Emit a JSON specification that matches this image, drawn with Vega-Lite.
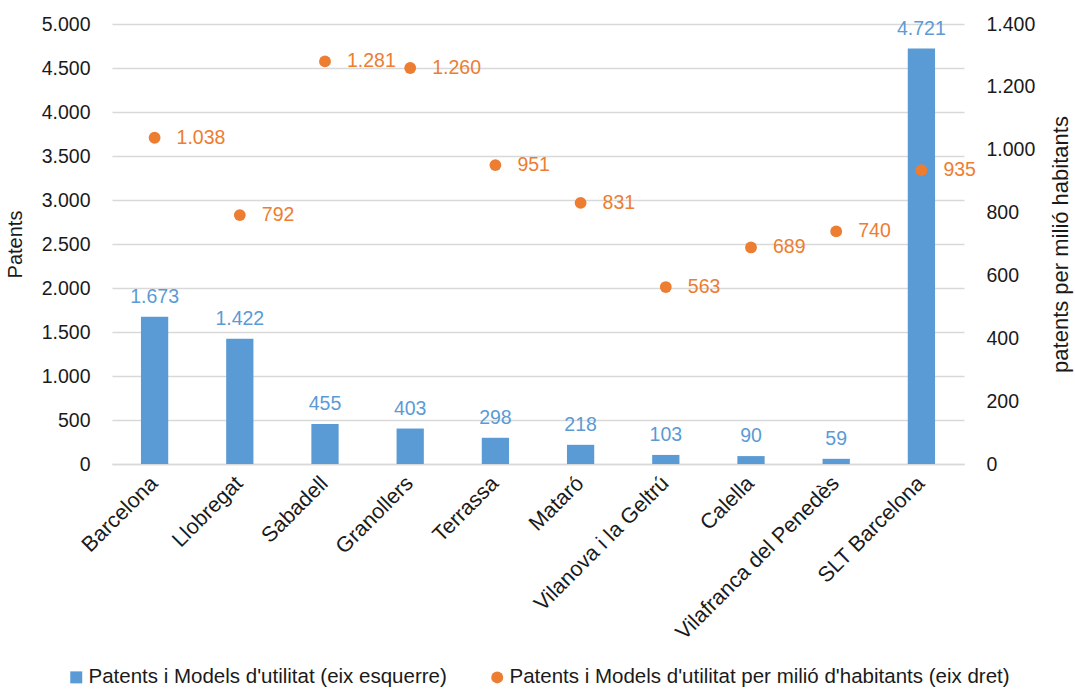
{
  "$schema": "https://vega.github.io/schema/vega-lite/v6.json",
  "width": 852,
  "height": 440,
  "autosize": {"type": "none"},
  "padding": {"left": 112, "top": 24, "right": 111, "bottom": 226},
  "background": "white",
  "config": {
    "locale": {"number": {"decimal": ",", "thousands": ".", "grouping": [3], "currency": ["", "€"]}},
    "font": "Liberation Sans",
    "view": {"stroke": null},
    "axis": {"labelFont": "Liberation Sans", "titleFont": "Liberation Sans", "labelColor": "#1a1a1a", "titleColor": "#1a1a1a", "labelFontSize": 19.5, "titleFontSize": 20, "titleFontWeight": "normal"}
  },
  "data": {"values": [
    {"city": "Barcelona", "patents": 1673, "perMillion": 1038},
    {"city": "Llobregat", "patents": 1422, "perMillion": 792},
    {"city": "Sabadell", "patents": 455, "perMillion": 1281},
    {"city": "Granollers", "patents": 403, "perMillion": 1260},
    {"city": "Terrassa", "patents": 298, "perMillion": 951},
    {"city": "Mataró", "patents": 218, "perMillion": 831},
    {"city": "Vilanova i la Geltrú", "patents": 103, "perMillion": 563},
    {"city": "Calella", "patents": 90, "perMillion": 689},
    {"city": "Vilafranca del Penedès", "patents": 59, "perMillion": 740},
    {"city": "SLT Barcelona", "patents": 4721, "perMillion": 935}
  ]},
  "encoding": {
    "x": {"field": "city", "type": "nominal", "sort": null,
      "scale": {"paddingInner": 0.68, "paddingOuter": 0.34},
      "axis": {"title": null, "labelAngle": -45, "ticks": false, "domain": true, "domainColor": "#d9d9d9", "domainWidth": 1.3, "labelPadding": 16, "labelAlign": "right", "labelBaseline": "middle", "labelFontSize": 21.5, "labelLimit": 400}}
  },
  "layer": [
    {
      "layer": [
        {
          "mark": {"type": "bar"},
          "encoding": {
            "y": {"field": "patents", "type": "quantitative",
              "scale": {"domain": [0, 5000]},
              "axis": {"title": "Patents", "values": [0,500,1000,1500,2000,2500,3000,3500,4000,4500,5000], "format": ",d", "grid": true, "gridColor": "#d9d9d9", "gridWidth": 1.3, "domain": false, "ticks": false, "labelPadding": 22, "titlePadding": 16}},
            "color": {"datum": "Patents i Models d'utilitat (eix esquerre)", "type": "nominal",
              "scale": {"domain": ["Patents i Models d'utilitat (eix esquerre)", "Patents i Models d'utilitat per milió d'habitants (eix dret)"], "range": ["#5b9bd5", "#ed7d31"]},
              "legend": {"title": null, "orient": "none", "legendX": -46, "legendY": 643, "direction": "horizontal", "labelFontSize": 20.5, "labelColor": "#1a1a1a", "labelFont": "Liberation Sans", "symbolSize": 144, "columnPadding": 40, "symbolOffset": 0, "labelOffset": 2,
                "labelLimit": 700,
                "encode": {"symbols": {"update": {"shape": {"signal": "datum.index === 0 ? 'square' : 'circle'"}}}}}}
          }
        },
        {
          "mark": {"type": "text", "baseline": "bottom", "dy": -10, "fontSize": 19.5, "color": "#5b9bd5"},
          "encoding": {
            "y": {"field": "patents", "type": "quantitative", "scale": {"domain": [0, 5000]}},
            "text": {"field": "patents", "type": "quantitative", "format": ",d"}
          }
        }
      ]
    },
    {
      "layer": [
        {
          "mark": {"type": "point", "filled": true, "size": 140, "opacity": 1},
          "encoding": {
            "y": {"field": "perMillion", "type": "quantitative",
              "scale": {"domain": [0, 1400]},
              "axis": {"orient": "right", "title": "patents per milió habitants", "titleAngle": -90, "titleFontSize": 22, "values": [0,200,400,600,800,1000,1200,1400], "format": ",d", "grid": false, "domain": false, "ticks": false, "labelPadding": 22, "titlePadding": 38}},
            "color": {"datum": "Patents i Models d'utilitat per milió d'habitants (eix dret)", "type": "nominal"}
          }
        },
        {
          "mark": {"type": "text", "align": "left", "baseline": "middle", "dx": 22, "fontSize": 19.5, "color": "#ed7d31"},
          "encoding": {
            "y": {"field": "perMillion", "type": "quantitative", "scale": {"domain": [0, 1400]}},
            "text": {"field": "perMillion", "type": "quantitative", "format": ",d"}
          }
        }
      ]
    }
  ],
  "resolve": {"scale": {"y": "independent"}}
}
